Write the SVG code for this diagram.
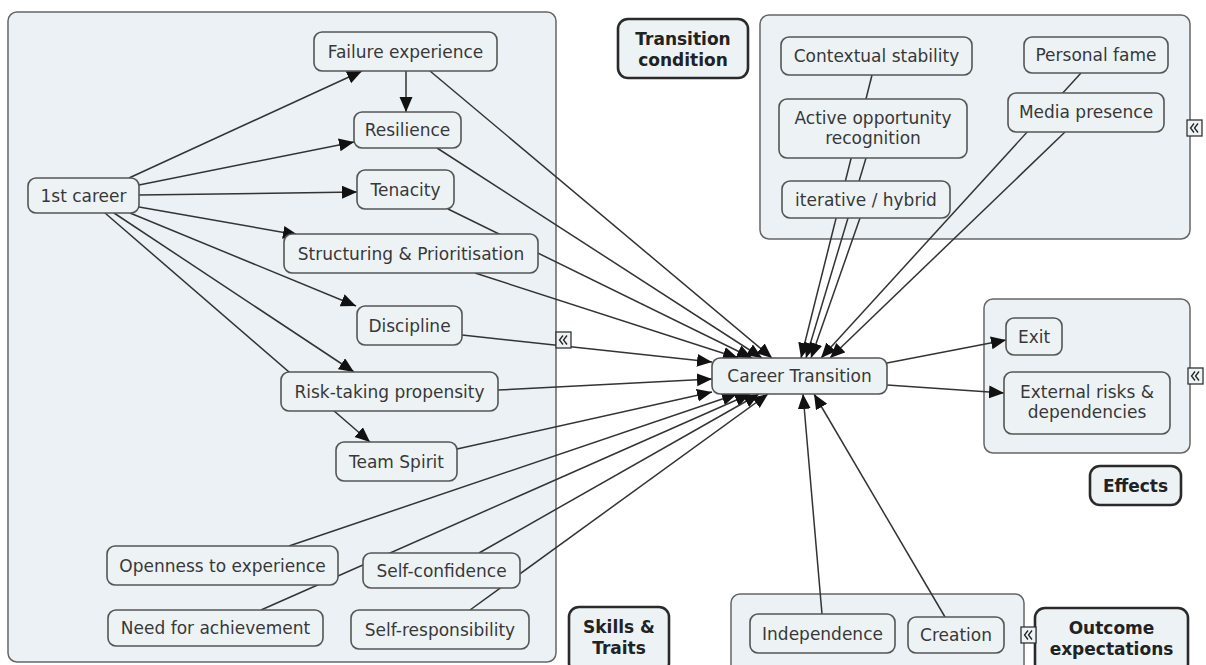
<svg xmlns="http://www.w3.org/2000/svg" width="1206" height="665" viewBox="0 0 1206 665">
<defs>
<marker id="ah" markerUnits="userSpaceOnUse" markerWidth="16" markerHeight="14" refX="15" refY="6.5" orient="auto">
<path d="M0,0 L15,6.5 L0,13 z" fill="#111"/>
</marker>
<g id="collapse">
<rect x="0" y="0" width="15" height="16" fill="#eef3f5" stroke="#333" stroke-width="1.3"/>
<polyline points="7,3.5 3.5,8 7,12.5" fill="none" stroke="#222" stroke-width="1.3"/>
<polyline points="11,3.5 7.5,8 11,12.5" fill="none" stroke="#222" stroke-width="1.3"/>
</g>
</defs>
<style>
.grp{fill:#ebf1f4;stroke:#666;stroke-width:1.5}
.nd{fill:#edf3f5;stroke:#555;stroke-width:1.6}
.lbl{fill:#edf3f5;stroke:#2a2a2a;stroke-width:2.6}
.t{font-family:"DejaVu Sans",Verdana,sans-serif;font-size:17px;fill:#383838;text-anchor:middle}
.b{font-family:"DejaVu Sans",Verdana,sans-serif;font-size:17px;font-weight:bold;fill:#222;text-anchor:middle}
.c{fill:none;stroke:#333;stroke-width:1.5}
.a{marker-end:url(#ah)}
</style>
<rect width="1206" height="665" fill="#fff"/>

<g id="groups">
<rect class="grp" x="8" y="12" width="548" height="650" rx="9"/>
<rect class="grp" x="760" y="15" width="430" height="224" rx="9"/>
<rect class="grp" x="984" y="299" width="206" height="154" rx="9"/>
<rect class="grp" x="731" y="594" width="293" height="90" rx="9"/>
</g>

<g id="connectors">
<line class="c a" x1="129" y1="178" x2="362" y2="71"/>
<line class="c a" x1="139" y1="185" x2="354" y2="142"/>
<line class="c a" x1="139" y1="195" x2="357" y2="192"/>
<line class="c a" x1="139" y1="207" x2="298" y2="235"/>
<line class="c a" x1="130" y1="213" x2="356" y2="306"/>
<line class="c a" x1="114" y1="213" x2="354" y2="372"/>
<line class="c a" x1="105" y1="213" x2="370" y2="442"/>
<line class="c a" x1="406" y1="71" x2="406" y2="112"/>
<line class="c a" x1="430" y1="71" x2="772" y2="358"/>
<line class="c a" x1="437" y1="148" x2="762" y2="358"/>
<line class="c a" x1="448" y1="209" x2="752" y2="358"/>
<line class="c a" x1="475" y1="273" x2="738" y2="358"/>
<line class="c a" x1="462" y1="335" x2="712" y2="362"/>
<line class="c a" x1="498" y1="390" x2="712" y2="379"/>
<line class="c a" x1="457" y1="449" x2="712" y2="392"/>
<line class="c a" x1="289" y1="546" x2="737" y2="394"/>
<line class="c a" x1="261" y1="610" x2="750" y2="394"/>
<line class="c a" x1="479" y1="553" x2="759" y2="394"/>
<line class="c a" x1="470" y1="610" x2="768" y2="394"/>
<line class="c a" x1="872" y1="75" x2="801" y2="358"/>
<line class="c a" x1="866" y1="158" x2="806" y2="358"/>
<line class="c a" x1="860" y1="218" x2="811" y2="358"/>
<line class="c a" x1="1081" y1="73" x2="821" y2="358"/>
<line class="c a" x1="1065" y1="132" x2="830" y2="358"/>
<line class="c a" x1="822" y1="614" x2="803" y2="394"/>
<line class="c a" x1="945" y1="617" x2="814" y2="394"/>
<line class="c a" x1="887" y1="363" x2="1006" y2="340"/>
<line class="c a" x1="887" y1="385" x2="1004" y2="393"/>
</g>

<g id="n-1st-career"><rect class="nd" x="28" y="178" width="111" height="35" rx="8"/><text class="t" x="83.5" y="201.5">1st career</text></g>
<g id="n-failure"><rect class="nd" x="314" y="32" width="183" height="39" rx="8"/><text class="t" x="405.5" y="57.5">Failure experience</text></g>
<g id="n-resilience"><rect class="nd" x="354" y="112" width="107" height="36" rx="8"/><text class="t" x="407.5" y="136">Resilience</text></g>
<g id="n-tenacity"><rect class="nd" x="357" y="170" width="97" height="39" rx="8"/><text class="t" x="405.5" y="195.5">Tenacity</text></g>
<g id="n-structuring"><rect class="nd" x="284" y="234" width="254" height="39" rx="8"/><text class="t" x="411" y="259.5">Structuring &amp; Prioritisation</text></g>
<g id="n-discipline"><rect class="nd" x="357" y="306" width="105" height="39" rx="8"/><text class="t" x="409.5" y="331.5">Discipline</text></g>
<g id="n-risk"><rect class="nd" x="281" y="372" width="217" height="39" rx="8"/><text class="t" x="389.5" y="397.5">Risk-taking propensity</text></g>
<g id="n-team"><rect class="nd" x="336" y="442" width="121" height="39" rx="8"/><text class="t" x="396.5" y="467.5">Team Spirit</text></g>
<g id="n-openness"><rect class="nd" x="107" y="546" width="231" height="39" rx="8"/><text class="t" x="222.5" y="571.5">Openness to experience</text></g>
<g id="n-selfconf"><rect class="nd" x="363" y="553" width="157" height="35" rx="8"/><text class="t" x="441.5" y="576.5">Self-confidence</text></g>
<g id="n-need"><rect class="nd" x="108" y="610" width="215" height="36" rx="8"/><text class="t" x="215.5" y="634">Need for achievement</text></g>
<g id="n-selfresp"><rect class="nd" x="351" y="610" width="178" height="39" rx="8"/><text class="t" x="440" y="635.5">Self-responsibility</text></g>

<g id="n-career-transition"><rect class="nd" x="712" y="358" width="175" height="36" rx="8"/><text class="t" x="799.5" y="382">Career Transition</text></g>

<g id="n-contextual"><rect class="nd" x="781" y="37" width="191" height="38" rx="8"/><text class="t" x="876.5" y="62">Contextual stability</text></g>
<g id="n-fame"><rect class="nd" x="1024" y="37" width="144" height="36" rx="8"/><text class="t" x="1096" y="61">Personal fame</text></g>
<g id="n-active"><rect class="nd" x="779" y="99" width="188" height="59" rx="8"/><text class="t" x="873" y="124">Active opportunity</text><text class="t" x="873" y="144">recognition</text></g>
<g id="n-media"><rect class="nd" x="1008" y="93" width="156" height="39" rx="8"/><text class="t" x="1086" y="118">Media presence</text></g>
<g id="n-iterative"><rect class="nd" x="782" y="181" width="168" height="37" rx="8"/><text class="t" x="866" y="205.5">iterative / hybrid</text></g>

<g id="n-exit"><rect class="nd" x="1006" y="318" width="56" height="37" rx="8"/><text class="t" x="1034" y="342.5">Exit</text></g>
<g id="n-external"><rect class="nd" x="1004" y="372" width="166" height="62" rx="8"/><text class="t" x="1087" y="398">External risks &amp;</text><text class="t" x="1087" y="418">dependencies</text></g>

<g id="n-independence"><rect class="nd" x="750" y="614" width="145" height="39" rx="8"/><text class="t" x="822.5" y="639.5">Independence</text></g>
<g id="n-creation"><rect class="nd" x="908" y="617" width="96" height="36" rx="8"/><text class="t" x="956" y="641">Creation</text></g>

<g id="l-transition"><rect class="lbl" x="618" y="19" width="130" height="59" rx="10"/><text class="b" x="683" y="45">Transition</text><text class="b" x="683" y="66">condition</text></g>
<g id="l-skills"><rect class="lbl" x="569" y="607" width="100" height="66" rx="10"/><text class="b" x="619" y="633">Skills &amp;</text><text class="b" x="619" y="654">Traits</text></g>
<g id="l-effects"><rect class="lbl" x="1090" y="466" width="91" height="39" rx="10"/><text class="b" x="1135.5" y="492">Effects</text></g>
<g id="l-outcome"><rect class="lbl" x="1035" y="608" width="153" height="66" rx="10"/><text class="b" x="1111.5" y="634">Outcome</text><text class="b" x="1111.5" y="655">expectations</text></g>

<g id="icons">
<use href="#collapse" x="556" y="332"/>
<use href="#collapse" x="1187" y="120"/>
<use href="#collapse" x="1188" y="368"/>
<use href="#collapse" x="1021" y="627"/>
</g>
</svg>
